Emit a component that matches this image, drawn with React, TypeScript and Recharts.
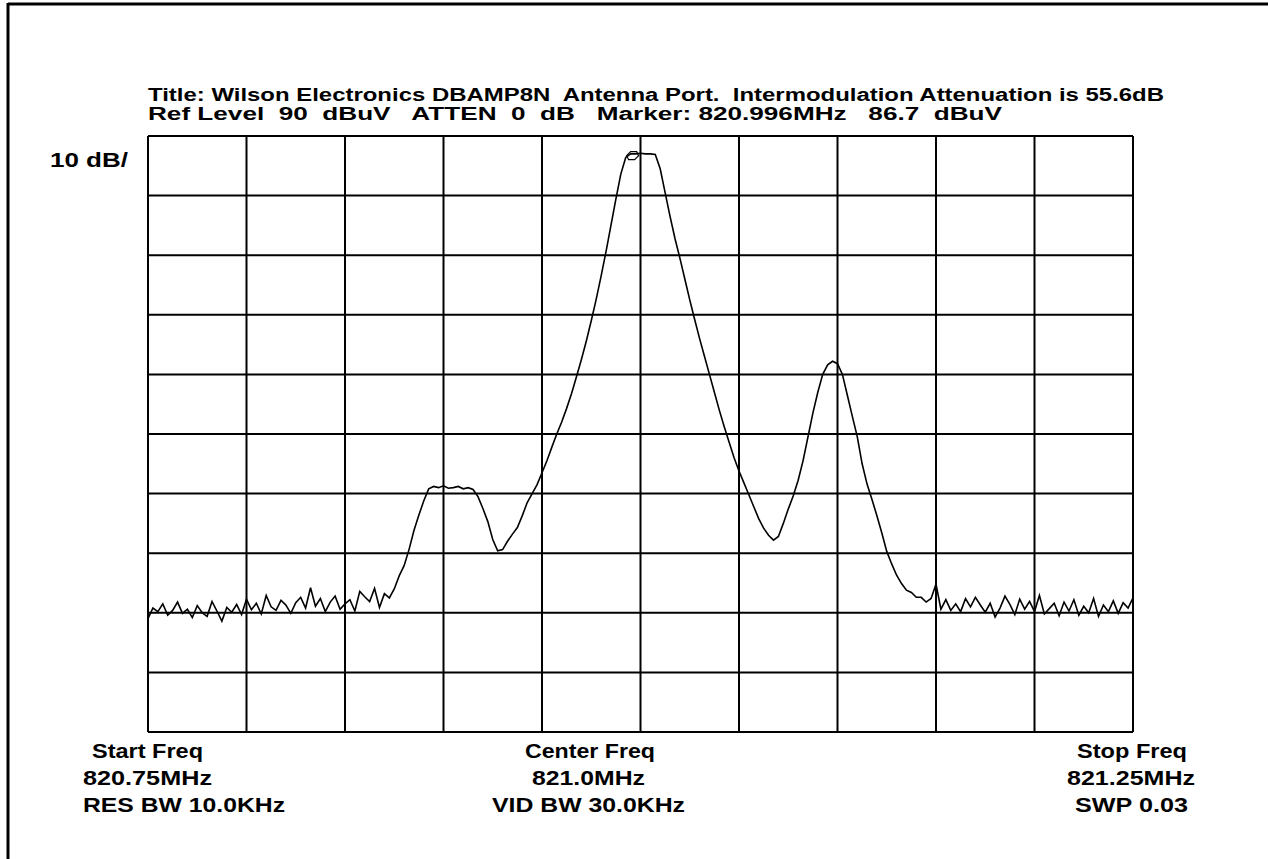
import { LineChart, Line, XAxis, YAxis, ReferenceLine, ReferenceDot } from 'recharts';

const START_MHZ = 820.75;
const STOP_MHZ = 821.25;

const FREQ_TICKS = [820.75, 820.8, 820.85, 820.9, 820.95, 821.0, 821.05, 821.1, 821.15, 821.2, 821.25];
const LEVEL_TICKS = [-10, 0, 10, 20, 30, 40, 50, 60, 70, 80, 90];

// sweep readings in dBuV, evenly spaced from start to stop freq
const TRACE_DBUV = [
  9.0, 10.8, 10.2, 11.5, 9.6, 10.4, 11.8, 9.9, 10.6, 9.2,
  11.2, 10.0, 9.4, 11.9, 10.3, 8.6, 10.9, 10.1, 11.4, 9.7,
  12.3, 10.5, 11.6, 9.8, 12.9, 11.0, 10.4, 12.1, 11.3, 9.9,
  11.7, 12.6, 10.8, 14.2, 11.1, 12.4, 10.2, 11.8, 12.8, 10.6,
  11.5, 12.2, 10.3, 13.6, 12.7, 11.9, 14.1, 10.9, 13.2, 12.5,
  14.0, 16.2, 17.9, 20.6, 23.8, 26.4, 28.8, 30.8, 31.2, 31.0,
  31.3, 30.9, 31.0, 31.2, 30.8, 31.0, 30.7, 29.5, 27.5, 25.3,
  22.3, 20.4, 20.6, 22.0, 23.2, 24.3, 26.3, 28.5, 30.0, 31.5,
  33.5, 35.5, 37.8, 40.0, 42.0, 44.3, 46.8, 49.6, 52.5, 55.6,
  59.0, 62.6, 66.5, 70.6, 75.0, 79.4, 83.6, 86.4, 87.0, 87.0,
  87.1, 87.0, 87.0, 86.9, 84.5, 80.5, 76.5, 72.8, 69.5, 66.0,
  62.5, 59.2, 56.0, 53.0, 50.0, 47.0, 44.0, 41.2, 38.6, 36.0,
  33.8, 31.8, 29.8, 27.8, 25.8, 24.2, 23.0, 22.2, 22.8, 25.0,
  27.4, 29.6, 32.2, 35.5, 39.5, 43.5, 47.0, 50.0, 51.6, 52.2,
  51.8, 50.0, 46.5, 43.0, 39.6, 35.0, 31.6, 29.0, 26.3, 23.4,
  20.3, 18.2, 16.3, 14.9, 13.8, 13.4, 12.6, 12.6, 11.8, 12.4,
  14.8, 10.6, 12.2, 10.4, 11.5, 10.2, 12.4, 11.0, 12.6, 11.3,
  10.1, 11.6, 9.3, 10.8, 12.8, 11.4, 9.7, 12.3, 10.6, 11.9,
  10.2, 12.9, 9.8, 10.7, 11.6, 9.5, 11.8, 10.3, 12.2, 9.6,
  11.1, 10.0, 12.4, 9.4, 11.3, 10.2, 12.0, 9.9, 11.7, 10.8,
  12.5,
];

const MARKER_MHZ = 820.996;
const MARKER_DBUV = 86.7;

const TITLE_LINE = 'Title: Wilson Electronics DBAMP8N  Antenna Port.  Intermodulation Attenuation is 55.6dB';
const SETTINGS_LINE = 'Ref Level  90  dBuV   ATTEN  0  dB   Marker: 820.996MHz   86.7  dBuV';
const SCALE_LABEL = '10 dB/';
const FOOTER_LEFT = ['Start Freq', '820.75MHz', 'RES BW 10.0KHz'];
const FOOTER_CENTER = ['Center Freq', '821.0MHz', 'VID BW 30.0KHz'];
const FOOTER_RIGHT = ['Stop Freq', '821.25MHz', 'SWP 0.03'];

const traceData = TRACE_DBUV.map((level, i) => ({
  freq: START_MHZ + (i * (STOP_MHZ - START_MHZ)) / (TRACE_DBUV.length - 1),
  level,
}));

const FONT = '"Liberation Sans", Arial, sans-serif';

function SpecText({ x, y, w, size = 20, children }: { x: number; y: number; w: number; size?: number; children: string }) {
  return (
    <text
      x={x}
      y={y}
      textLength={w}
      lengthAdjust="spacingAndGlyphs"
      fontFamily={FONT}
      fontWeight="bold"
      fontSize={size}
      fill="#000"
      style={{ whiteSpace: 'pre' }}
    >
      {children}
    </text>
  );
}

function MarkerShape(props: any) {
  const { cx, cy } = props;
  return (
    <path
      d={`M${cx - 6},${cy} L${cx - 2},${cy - 4} L${cx + 4},${cy - 4} L${cx + 6},${cy} L${cx + 2},${cy + 4} L${cx - 4},${cy + 4} Z`}
      fill="none"
      stroke="#000"
      strokeWidth={1.2}
    />
  );
}

export default function App() {
  return (
    <div style={{ position: 'absolute', left: 0, top: 0, width: 1268, height: 859, background: '#fff', overflow: 'hidden' }}>
      <LineChart
        width={1268}
        height={859}
        data={traceData}
        margin={{ top: 136, right: 135, bottom: 127, left: 148 }}
      >
        <XAxis
          type="number"
          dataKey="freq"
          domain={[START_MHZ, STOP_MHZ]}
          ticks={FREQ_TICKS}
          allowDataOverflow
          height={0}
          tick={false}
          tickLine={false}
          axisLine={false}
        />
        <YAxis
          type="number"
          domain={[-10, 90]}
          ticks={LEVEL_TICKS}
          allowDataOverflow
          width={0}
          tick={false}
          tickLine={false}
          axisLine={false}
        />
        {/* graticule: 10 x 10 divisions */}
        {LEVEL_TICKS.map((v) => (
          <ReferenceLine key={`h-${v}`} y={v} stroke="#000" strokeWidth={2} ifOverflow="visible" />
        ))}
        {FREQ_TICKS.map((v) => (
          <ReferenceLine key={`v-${v}`} x={v} stroke="#000" strokeWidth={2} ifOverflow="visible" />
        ))}
        <Line
          type="linear"
          dataKey="level"
          stroke="#000"
          strokeWidth={1.6}
          dot={false}
          isAnimationActive={false}
        />
        <ReferenceDot x={MARKER_MHZ} y={MARKER_DBUV} r={5} shape={MarkerShape} />
      </LineChart>

      <svg width={1268} height={859} style={{ position: 'absolute', left: 0, top: 0, pointerEvents: 'none' }}>
        <line x1={8} y1={4} x2={1268} y2={4} stroke="#000" strokeWidth={3} />
        <line x1={8} y1={3} x2={8} y2={859} stroke="#000" strokeWidth={3} />

        <SpecText x={148} y={101} w={1016} size={18}>{TITLE_LINE}</SpecText>
        <SpecText x={148} y={120} w={854} size={18}>{SETTINGS_LINE}</SpecText>
        <SpecText x={50} y={167} w={78}>{SCALE_LABEL}</SpecText>

        <SpecText x={92} y={758} w={111}>{FOOTER_LEFT[0]}</SpecText>
        <SpecText x={83} y={785} w={129}>{FOOTER_LEFT[1]}</SpecText>
        <SpecText x={83} y={812} w={202}>{FOOTER_LEFT[2]}</SpecText>

        <SpecText x={525} y={758} w={130}>{FOOTER_CENTER[0]}</SpecText>
        <SpecText x={532} y={785} w={113}>{FOOTER_CENTER[1]}</SpecText>
        <SpecText x={492} y={812} w={193}>{FOOTER_CENTER[2]}</SpecText>

        <SpecText x={1077} y={758} w={110}>{FOOTER_RIGHT[0]}</SpecText>
        <SpecText x={1067} y={785} w={128}>{FOOTER_RIGHT[1]}</SpecText>
        <SpecText x={1075} y={812} w={113}>{FOOTER_RIGHT[2]}</SpecText>
      </svg>
    </div>
  );
}
